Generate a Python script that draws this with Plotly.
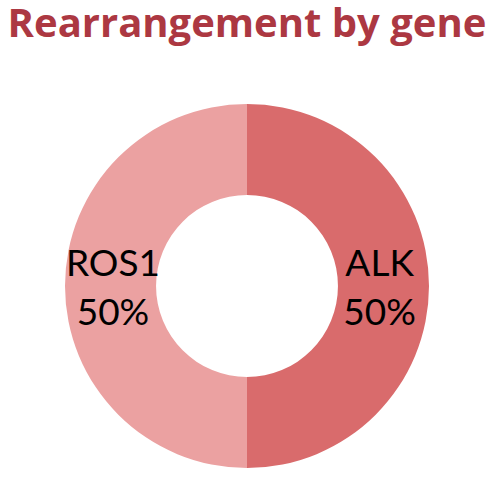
import plotly.graph_objects as go

# Data
genes = ["ALK", "ROS1"]
shares = [50, 50]
slice_colors = ["#D96B6C", "#EBA1A1"]

W, H = 494, 477

fig = go.Figure()

fig.add_trace(go.Pie(
    labels=genes,
    values=shares,
    hole=0.5,
    sort=False,
    direction="clockwise",
    rotation=0,
    marker=dict(colors=slice_colors, line=dict(width=0)),
    texttemplate="%{label}<br>%{percent:.0%}",
    textposition="inside",
    insidetextorientation="horizontal",
    textfont=dict(family="Lato", size=37, color="black"),
    showlegend=False,
    hoverinfo="label+percent",
    domain=dict(x=[65 / W, 429 / W], y=[1 - 468 / H, 1 - 104 / H]),
))

fig.update_layout(
    width=W,
    height=H,
    margin=dict(l=0, r=0, t=0, b=0),
    paper_bgcolor="white",
    plot_bgcolor="white",
    uniformtext=dict(minsize=37, mode="show"),
    title=dict(
        text="<b>Rearrangement by gene</b>",
        x=0.5, xanchor="center",
        y=1 - 23 / H, yanchor="middle",
        font=dict(family="Open Sans", size=40, color="#AC3842"),
    ),
)

# drop the page's default 8px body margin so the figure sits at the window origin
fig.write_html("out.html", config={"displayModeBar": False},
               post_script="document.body.style.margin='0px';")
